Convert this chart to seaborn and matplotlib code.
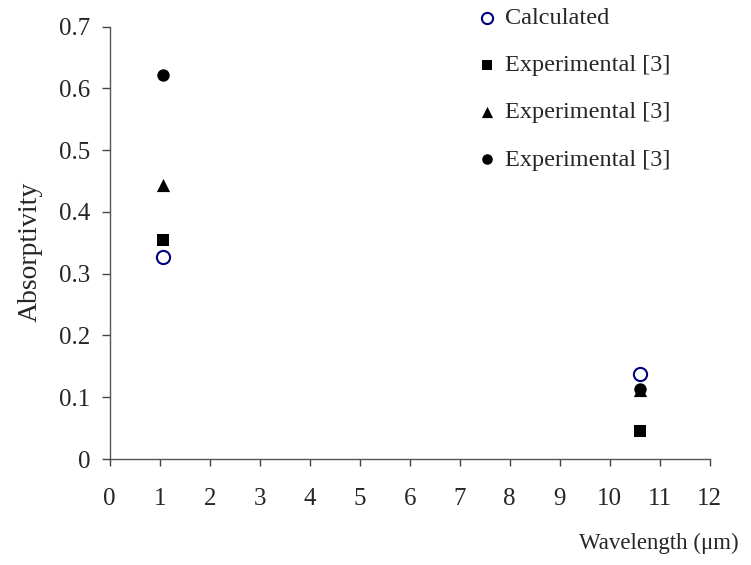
import numpy as np
import pandas as pd
import matplotlib
matplotlib.use("Agg")
import matplotlib.pyplot as plt
import seaborn as sns

# Data
wavelength = [1.06, 10.6]
calculated = [0.327, 0.138]
exp_square = [0.354, 0.045]
exp_triangle = [0.443, 0.112]
exp_circle = [0.621, 0.113]

sns.set_style("ticks")
plt.rcParams['font.family'] = ['Liberation Serif', 'DejaVu Serif']

fig, ax = plt.subplots(figsize=(7.51, 5.65), dpi=100)
fig.subplots_adjust(left=0.146, right=0.945, top=0.953, bottom=0.1876)

sns.scatterplot(x=wavelength, y=calculated, ax=ax, marker='o', s=90,
                facecolor='white', edgecolor='#000080', linewidth=1.5,
                label='Calculated', zorder=2)
sns.scatterplot(x=wavelength, y=exp_square, ax=ax, marker='s', s=70,
                color='black', edgecolor='black', linewidth=0,
                label='Experimental [3]', zorder=3)
sns.scatterplot(x=wavelength, y=exp_triangle, ax=ax, marker='^', s=90,
                color='black', edgecolor='black', linewidth=0,
                label='Experimental [3]', zorder=3)
sns.scatterplot(x=wavelength, y=exp_circle, ax=ax, marker='o', s=80,
                color='black', edgecolor='black', linewidth=0,
                label='Experimental [3]', zorder=3)

ax.set_xlim(0, 12)
ax.set_ylim(0, 0.7)
ax.set_xticks(np.arange(0, 13, 1))
ax.set_yticks(np.arange(0, 0.71, 0.1))
ax.set_yticklabels(['0', '0.1', '0.2', '0.3', '0.4', '0.5', '0.6', '0.7'])
ax.tick_params(axis='both', labelsize=18, width=1, color='#444444',
               direction='out')
ax.tick_params(axis='x', length=5, pad=16)
ax.tick_params(axis='y', length=6, pad=8)
for side in ['left', 'bottom']:
    ax.spines[side].set_color('#555555')
    ax.spines[side].set_linewidth(1)
sns.despine(ax=ax)

ax.set_ylabel('Absorptivity', fontsize=20)
ax.yaxis.set_label_coords(-0.111, 0.48)
ax.set_xlabel('Wavelength (\u03bcm)', fontsize=16.5)
ax.xaxis.set_label_coords(1.048, -0.171)
ax.xaxis.label.set_horizontalalignment('right')

ax.legend(loc='upper left', bbox_to_anchor=(0.639, 0.987), bbox_transform=fig.transFigure,
          frameon=False, fontsize=17.5, handletextpad=0.45, labelspacing=1.03,
          handlelength=0.6, borderaxespad=0, borderpad=0, markerscale=0.85)

fig.savefig('out.png', dpi=100)
